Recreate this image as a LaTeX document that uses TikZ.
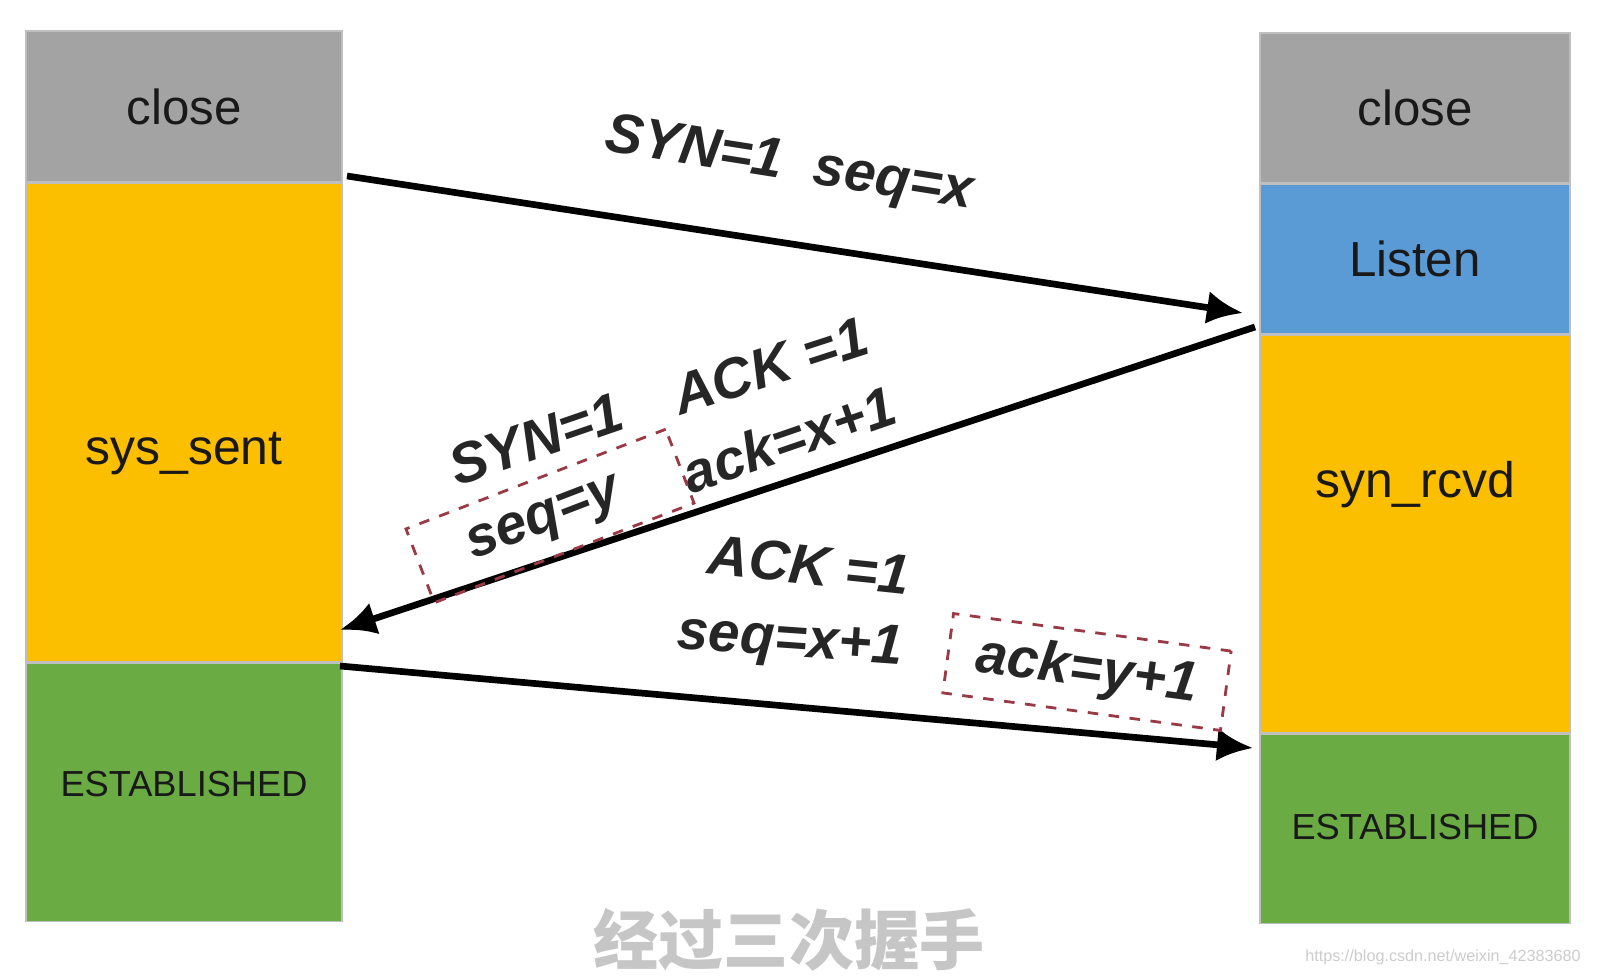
\documentclass[tikz,border=0pt]{standalone}
\usepackage{fontspec}
\setmainfont{Liberation Sans}
\newfontfamily\cjk{Noto Sans CJK SC}
\usetikzlibrary{positioning}
\usetikzlibrary{arrows.meta}

\definecolor{closegray}{HTML}{A3A3A3}
\definecolor{sentyellow}{HTML}{FBBF00}
\definecolor{listenblue}{HTML}{5B9BD5}
\definecolor{estgreen}{HTML}{6AAB44}
\definecolor{boxred}{HTML}{9A3A44}

\begin{document}
\begin{tikzpicture}[
  x=0.01cm, y=-0.01cm,
  node distance=0cm,
  state/.style={draw=black!25,rectangle,inner sep=0pt,text=black!90,font=\fontsize{14}{16}\selectfont},
  every label/.style={font=\fontsize{14.2}{16}\selectfont,text=black!90},
  msg/.style={font=\fontsize{16}{18}\selectfont\bfseries\itshape,text=black!85,inner sep=0pt},
  hsk/.style={-{Latex[length=0.36cm,width=0.33cm]},line width=1.9pt},
  dashbox/.style={draw=boxred,dashed,line width=0.8pt,inner sep=0pt}
]
\useasboundingbox (0,0) rectangle (1602,976);

% client side
\node[state,fill=closegray,minimum width=3.16cm,minimum height=1.51cm] (lclose) at (184,106.5) {close};
\node[state,fill=sentyellow,minimum width=3.16cm,minimum height=4.78cm,below=of lclose,
  label={[yshift=-0.31cm]center:sys\_sent}] (lsent) {};
\node[state,fill=estgreen,minimum width=3.16cm,minimum height=2.58cm,below=of lsent,
  font=\fontsize{10.3}{12}\selectfont] (lest) {\raisebox{0.17cm}{ESTABLISHED}};

% server side
\node[state,fill=closegray,minimum width=3.1cm,minimum height=1.5cm] (rclose) at (1415,108) {close};
\node[state,fill=listenblue,minimum width=3.1cm,minimum height=1.49cm,below=of rclose] (rlisten) {Listen};
\node[state,fill=sentyellow,minimum width=3.1cm,minimum height=3.98cm,below=of rlisten,
  label={[yshift=0.49cm]center:syn\_rcvd}] (rrcvd) {};
\node[state,fill=estgreen,minimum width=3.1cm,minimum height=1.89cm,below=of rrcvd,
  font=\fontsize{10.3}{12}\selectfont] (rest) {\raisebox{0.04cm}{ESTABLISHED}};

% arrow ends
\coordinate (s1) at (347,176);
\coordinate (e1) at (1243,313);
\coordinate (s2) at (1255,327);
\coordinate (e2) at (340,630);
\coordinate (s3) at (340,666);
\coordinate (e3) at (1253,748);

\draw[hsk] (s1) -- (e1);
\draw[hsk] (s2) -- (e2);
\draw[hsk] (s3) -- (e3);

% messages
\node[msg,rotate=-9] (m1) at (789,166) {SYN=1\ \ seq=x};
\node[msg,rotate=19] (m2syn) at (536,439) {SYN=1};
\node[msg,rotate=18] (m2ack) at (770,366) {ACK =1};
\node[msg,rotate=19] (m2ackn) at (789,439) {ack=x+1};
\node[dashbox,rotate=21,minimum width=2.78cm,minimum height=0.79cm] (m2seq) at (550,516) {};
\node[msg,rotate=21] at (545,522) {seq=y};
\node[msg,rotate=-6] (m3ack) at (809,565) {ACK =1};
\node[msg,rotate=-4] (m3seq) at (790,643) {seq=x+1};
\node[dashbox,rotate=-7.7,minimum width=2.8cm,minimum height=0.8cm] (m3ackn) at (1087,672) {};
\node[msg,rotate=-7.7] at (m3ackn) {ack=y+1};

% caption and watermark
\node[font=\cjk\bfseries\fontsize{18.5}{20}\selectfont,text=gray!45] (caption) at (789,940) {经过三次握手};
\node[font=\fontsize{4.6}{5}\selectfont,text=gray!40,anchor=east] (wm) at (1593,957) {https://blog.csdn.net/weixin\_42383680};

\end{tikzpicture}
\end{document}
